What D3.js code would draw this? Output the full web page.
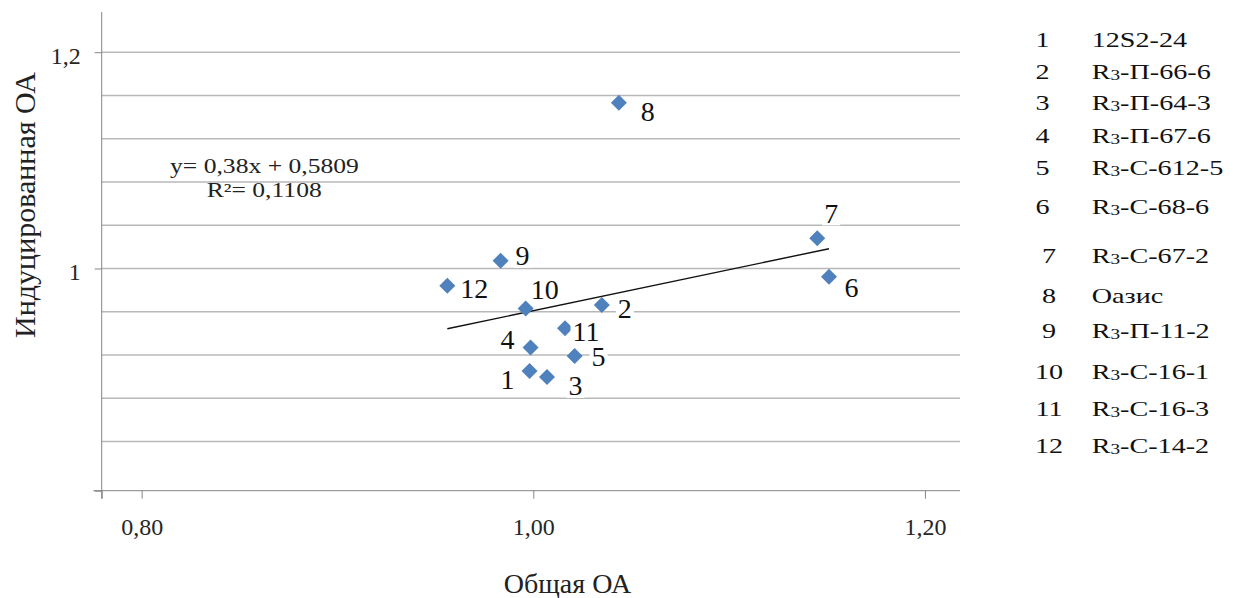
<!DOCTYPE html>
<html>
<head>
<meta charset="utf-8">
<script src="https://cdn.jsdelivr.net/npm/d3@7"></script>
<style>
  body { margin: 0; background: #fff; }
  svg { display: block; }
  text { font-family: "Liberation Serif", "Times New Roman", serif; }
</style>
</head>
<body>
<svg id="chart" width="1233" height="598"></svg>
<script>
// ---- data ----
const pointIds   = [1, 2, 3, 4, 5, 6, 7, 8, 9, 10, 11, 12];
const totalOA    = [0.9981, 1.0350, 1.0070, 0.9986, 1.0211, 1.1510, 1.1450, 1.0437, 0.9833, 0.9961, 1.0162, 0.9561];
const inducedOA  = [0.9052, 0.9663, 0.8997, 0.9270, 0.9191, 0.9924, 1.0279, 1.1533, 1.0072, 0.9630, 0.9447, 0.9841];
const sampleNames = ["12S2-24", "R3-П-66-6", "R3-П-64-3", "R3-П-67-6", "R3-С-612-5", "R3-С-68-6",
                     "R3-С-67-2", "Оазис", "R3-П-11-2", "R3-С-16-1", "R3-С-16-3", "R3-С-14-2"];
const xTickValues = [0.80, 1.00, 1.20];
const xTickLabels = ["0,80", "1,00", "1,20"];
const yTickValues = [1.0, 1.2];
const yTickLabels = ["1", "1,2"];
const yGridValues = [0.84, 0.88, 0.92, 0.96, 1.00, 1.04, 1.08, 1.12, 1.16, 1.20];
const trendSlope = 0.38;
const trendIntercept = 0.5809;
const equationLines = ["y= 0,38x + 0,5809", "R²= 0,1108"];
const xTitle = "Общая ОА";
const yTitle = "Индуцированная ОА";

// ---- layout ----
const plot = { left: 101.7, right: 960, top: 12, bottom: 490.7 };
const xDomain = [0.7796, 1.2179];
const yDomain = [0.7945, 1.2372];
// label placement relative to each marker (by point number)
const labelOffset = {
  1: [-22, 9], 2: [23, 4], 3: [28.5, 9], 4: [-23, -7.5], 5: [24, 0.5], 6: [22.5, 10.5],
  7: [14, -25], 8: [29, 9], 9: [22, -5], 10: [19, -18.5], 11: [21, 3.5], 12: [27, 2.5]
};
const legendRowY = [39, 71, 102, 135, 167.5, 206.7, 255, 295, 330, 371.7, 408, 445.7];

const svg = d3.select("#chart");
const x = d3.scaleLinear().domain(xDomain).range([plot.left, plot.right]);
const y = d3.scaleLinear().domain(yDomain).range([plot.bottom, plot.top]);

const axisColor = "#868686";
const gridColor = "#B8B8B8";
const markColor = "#4F81BD";

// horizontal gridlines
svg.append("g").selectAll("line").data(yGridValues).join("line")
  .attr("x1", plot.left).attr("x2", plot.right)
  .attr("y1", d => y(d)).attr("y2", d => y(d))
  .attr("stroke", gridColor).attr("stroke-width", 1.3);

// x axis
const xAxis = svg.append("g").attr("transform", `translate(0,${plot.bottom})`)
  .call(d3.axisBottom(x)
    .tickValues([xDomain[0], ...xTickValues])
    .tickFormat(d => { const i = xTickValues.indexOf(d); return i < 0 ? "" : xTickLabels[i]; })
    .tickSize(8).tickSizeOuter(0).tickPadding(19));
xAxis.attr("font-family", null);
xAxis.select(".domain").attr("stroke", axisColor).attr("d", `M${plot.left - 8.4},0H${plot.right}`);
xAxis.selectAll(".tick line").attr("stroke", axisColor);
xAxis.selectAll(".tick text").attr("font-size", 24).attr("fill", "#262626");

// y axis
const yAxis = svg.append("g").attr("transform", `translate(${plot.left},0)`)
  .call(d3.axisLeft(y)
    .tickValues([yDomain[0], ...yTickValues])
    .tickFormat(d => { const i = yTickValues.indexOf(d); return i < 0 ? "" : yTickLabels[i]; })
    .tickSize(7).tickSizeOuter(0).tickPadding(14));
yAxis.attr("font-family", null);
yAxis.select(".domain").attr("stroke", axisColor).attr("d", `M0,${plot.top}V${plot.bottom + 8}`);
yAxis.selectAll(".tick line").attr("stroke", axisColor);
yAxis.selectAll(".tick text").attr("font-size", 24).attr("fill", "#262626").attr("dy", "0.45em");

// linear trend line over the data range
const xExt = d3.extent(totalOA);
svg.append("line")
  .attr("x1", x(xExt[0])).attr("y1", y(trendSlope * xExt[0] + trendIntercept))
  .attr("x2", x(xExt[1])).attr("y2", y(trendSlope * xExt[1] + trendIntercept))
  .attr("stroke", "#111").attr("stroke-width", 1.4);

// trend equation
equationLines.forEach((t, i) => {
  const pos = i === 0 ? [170, 173] : [206.7, 197];
  svg.append("text")
    .attr("transform", `translate(${pos[0]},${pos[1]}) scale(1.28,1)`)
    .attr("font-size", 20).attr("fill", "#222").text(t);
});

// markers
const pts = pointIds.map((id, i) => ({ id, vx: totalOA[i], vy: inducedOA[i] }));
svg.append("g").selectAll("path").data(pts).join("path")
  .attr("d", d3.symbol(d3.symbolSquare, 128))
  .attr("transform", d => `translate(${x(d.vx)},${y(d.vy)}) rotate(45)`)
  .attr("fill", markColor);

// point number labels on white backing
const lab = svg.append("g").selectAll("g").data(pts).join("g")
  .attr("transform", d => {
    const o = labelOffset[d.id];
    return `translate(${x(d.vx) + o[0]},${y(d.vy) + o[1]})`;
  });
lab.append("text")
  .attr("text-anchor", "middle").attr("y", 9.5)
  .attr("font-size", 28).attr("fill", "#111")
  .text(d => d.id);
lab.each(function () {
  const g = d3.select(this);
  const bb = g.select("text").node().getBBox();
  g.insert("rect", "text")
    .attr("x", bb.x - 2).attr("width", bb.width + 4)
    .attr("y", -12).attr("height", 24)
    .attr("fill", "#fff");
});

// axis titles
svg.append("text")
  .attr("x", 567.5).attr("y", 593).attr("text-anchor", "middle")
  .attr("font-size", 28).attr("fill", "#222").text(xTitle);
svg.append("text")
  .attr("transform", "translate(35,205) rotate(-90)").attr("text-anchor", "middle")
  .attr("font-size", 30).attr("fill", "#222").text(yTitle);

// sample key
const key = svg.append("g");
pointIds.forEach((id, i) => {
  const by = legendRowY[i] + 7.5;
  key.append("text")
    .attr("transform", `translate(${id < 7 ? 1042.5 : 1049},${by}) scale(1.28,1)`)
    .attr("text-anchor", "middle").attr("font-size", 22).attr("fill", "#111")
    .text(id);
  const t = key.append("text")
    .attr("transform", `translate(1091.7,${by}) scale(1.28,1)`)
    .attr("font-size", 22).attr("fill", "#111");
  const name = sampleNames[i];
  if (name.startsWith("R3")) {
    t.append("tspan").text("R");
    t.append("tspan").attr("font-size", 15).attr("dy", 1).text("3");
    t.append("tspan").attr("dy", -1).text(name.slice(2));
  } else {
    t.text(name);
  }
});
</script>
</body>
</html>
